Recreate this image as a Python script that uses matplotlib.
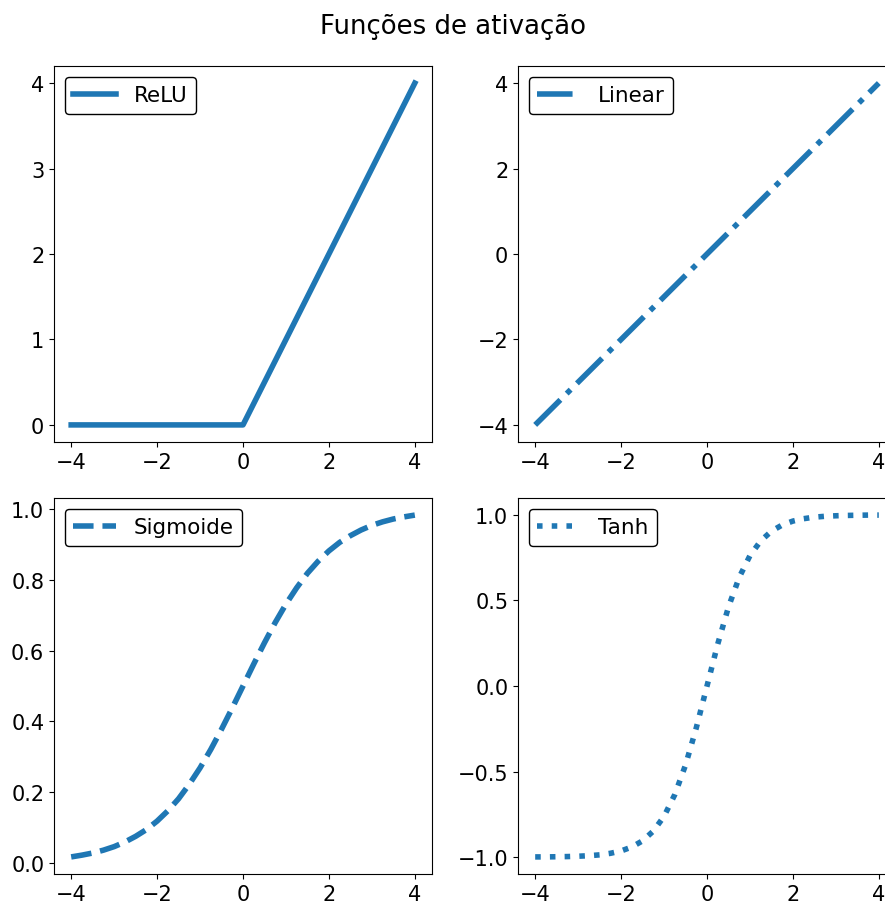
import matplotlib
matplotlib.use("Agg")
import matplotlib.pyplot as plt
from matplotlib.ticker import MultipleLocator

plt.rcParams['font.size'] = 15

# valores
x = [-4.0, -3.75, -3.5, -3.25, -3.0, -2.75, -2.5, -2.25, -2.0, -1.75, -1.5,
     -1.25, -1.0, -0.75, -0.5, -0.25, 0.0, 0.25, 0.5, 0.75, 1.0, 1.25, 1.5,
     1.75, 2.0, 2.25, 2.5, 2.75, 3.0, 3.25, 3.5, 3.75, 4.0]

relu = [0.0, 0.0, 0.0, 0.0, 0.0, 0.0, 0.0, 0.0, 0.0, 0.0, 0.0,
        0.0, 0.0, 0.0, 0.0, 0.0, 0.0, 0.25, 0.5, 0.75, 1.0, 1.25, 1.5,
        1.75, 2.0, 2.25, 2.5, 2.75, 3.0, 3.25, 3.5, 3.75, 4.0]

linear = [-4.0, -3.75, -3.5, -3.25, -3.0, -2.75, -2.5, -2.25, -2.0, -1.75, -1.5,
          -1.25, -1.0, -0.75, -0.5, -0.25, 0.0, 0.25, 0.5, 0.75, 1.0, 1.25, 1.5,
          1.75, 2.0, 2.25, 2.5, 2.75, 3.0, 3.25, 3.5, 3.75, 4.0]

sigmoide = [0.018, 0.023, 0.029, 0.037, 0.047, 0.060, 0.076, 0.095, 0.119, 0.148,
            0.182, 0.223, 0.269, 0.321, 0.378, 0.438, 0.500, 0.562, 0.622, 0.679,
            0.731, 0.777, 0.818, 0.852, 0.881, 0.905, 0.924, 0.940, 0.953, 0.963,
            0.971, 0.977, 0.982]

tanh = [-0.999, -0.999, -0.998, -0.997, -0.995, -0.992, -0.987, -0.978, -0.964,
        -0.941, -0.905, -0.848, -0.762, -0.635, -0.462, -0.245, 0.0, 0.245, 0.462,
        0.635, 0.762, 0.848, 0.905, 0.941, 0.964, 0.978, 0.987, 0.992, 0.995,
        0.997, 0.998, 0.999, 0.999]

fig = plt.figure(figsize=(8.85, 9.04), dpi=100)
W, H = 885, 904
w, h = 378 / W, 376 / H
ax1 = fig.add_axes([54 / W, 1 - 443 / H, w, h])
ax2 = fig.add_axes([518 / W, 1 - 443 / H, w, h])
ax3 = fig.add_axes([54 / W, 1 - 875 / H, w, h])
ax4 = fig.add_axes([518 / W, 1 - 875 / H, w, h])

ax1.plot(x, relu, '-', lw=4, label='ReLU')
ax2.plot(x, linear, '-.', lw=4, label='Linear')
ax3.plot(x, sigmoide, '--', lw=4, label='Sigmoide')
ax4.plot(x, tanh, ':', lw=4, label='Tanh')

ax1.yaxis.set_major_locator(MultipleLocator(1))
ax2.yaxis.set_major_locator(MultipleLocator(2))
ax3.yaxis.set_major_locator(MultipleLocator(0.2))
ax4.yaxis.set_major_locator(MultipleLocator(0.5))

for ax in [ax1, ax2, ax3, ax4]:
    ax.xaxis.set_major_locator(MultipleLocator(2))
    ax.legend(loc='upper left', edgecolor='black', framealpha=1, fontsize=15.5)

fig.text(453 / W, 1 - 27 / H, 'Funções de ativação', ha='center', va='center',
         fontsize=18.7)

fig.savefig('out.png', dpi=100)
